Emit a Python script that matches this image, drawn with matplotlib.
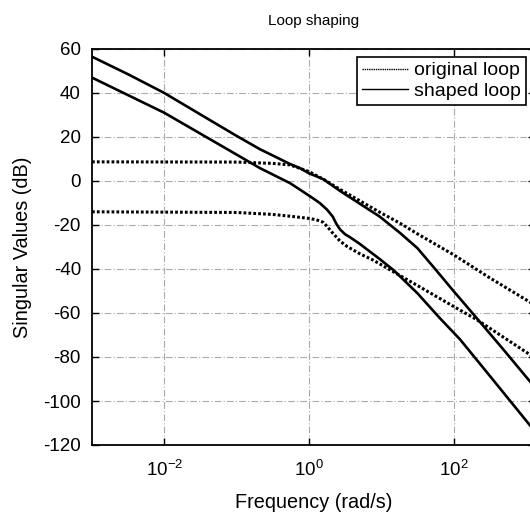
import matplotlib
matplotlib.use("Agg")
import matplotlib.pyplot as plt
from matplotlib.lines import Line2D
import numpy as np

plt.rcParams['font.family'] = ['Liberation Sans', 'DejaVu Sans']
plt.rcParams['axes.unicode_minus'] = False

# log10 of frequency (rad/s) and singular values (dB)
orig_hi_w = [-3, -1, -0.5, -0.26, 0, 0.2, 0.43, 0.98, 1.26, 1.5, 2, 2.5, 3.13]
orig_hi_db = [8.7, 8.6, 8.0, 7.3, 4.3, 0.8, -3.8, -14.2, -19.2, -24, -33.5, -44, -56.5]

orig_lo_w = [-3, -1, -0.5, -0.26, 0, 0.1, 0.2, 0.26, 0.33, 0.43, 0.53, 0.7, 0.89, 1.5, 2, 2.32, 3.13]
orig_lo_db = [-14, -14.3, -15.2, -16, -17, -17.6, -18.8, -21, -23.7, -27.3, -29.8, -33, -36, -47.5, -57, -63, -80.5]

shaped_hi_w = [-3, -2.5, -2, -1.37, -1, -0.68, -0.26, -0.12, 0, 0.1, 0.2, 0.43, 0.98, 1.26, 1.5, 1.72, 2, 2.32, 2.7, 3.13]
shaped_hi_db = [56.5, 48.5, 40, 27.7, 20.5, 14.5, 7.7, 5.8, 3.5, 2.2, 0.8, -4.5, -16.2, -23.6, -30.5, -39, -50, -62.3, -77, -94]

shaped_lo_w = [-3, -2, -1.5, -1, -0.68, -0.26, -0.12, 0.04, 0.15, 0.25, 0.33, 0.38, 0.43, 0.5, 0.57, 0.7, 0.98, 1.17, 1.5, 1.81, 2.09, 2.5, 3.13]
shaped_lo_db = [47, 31, 21.5, 12, 5.9, -1.0, -4, -7.5, -10, -13, -16.2, -19.5, -22, -24.2, -25.6, -28.5, -35.5, -40.5, -51, -62.3, -72, -88.5, -114]

fig = plt.figure(figsize=(5.30, 5.12), dpi=100)
ax = fig.add_axes([92 / 530, 67 / 512, 443 / 530, 396 / 512])

dots = (0, (0.9, 0.7))
ax.semilogx(10 ** np.array(orig_hi_w), orig_hi_db, color='black', linestyle=dots, linewidth=2.2)
ax.semilogx(10 ** np.array(orig_lo_w), orig_lo_db, color='black', linestyle=dots, linewidth=2.2)
ax.semilogx(10 ** np.array(shaped_hi_w), shaped_hi_db, color='black', linestyle='-', linewidth=1.9)
ax.semilogx(10 ** np.array(shaped_lo_w), shaped_lo_db, color='black', linestyle='-', linewidth=1.9)

ax.set_xlim(1e-3, 10 ** 3.127)
ax.set_ylim(-120, 60)
ax.set_xticks([1e-2, 1e0, 1e2])
ax.set_xticklabels(['$\\mathregular{10^{-2}}$', '$\\mathregular{10^{0}}$', '$\\mathregular{10^{2}}$'])
ax.minorticks_off()
ax.set_yticks(np.arange(-120, 61, 20))
ax.tick_params(direction='in', top=True, right=True, labelsize=13.5, length=5, width=1)
ax.tick_params(axis='x', pad=11)
ax.tick_params(axis='y', pad=8)
ax.grid(True, color='#aaaaaa', linestyle=(0, (6, 2, 1, 2)), linewidth=0.8)
for s in ax.spines.values():
    s.set_linewidth(1.3)

ax.set_xlabel('Frequency (rad/s)', fontsize=14.3, labelpad=9)
ax.set_ylabel('Singular Values (dB)', fontsize=14.3, labelpad=8)
ax.set_title('Loop shaping', fontsize=11, pad=17)

handles = [Line2D([], [], color='black', linestyle=(0, (1, 0.6)), linewidth=1),
           Line2D([], [], color='black', linestyle='-', linewidth=1)]
leg = ax.legend(handles, ['original loop', 'shaped loop'], loc='upper right',
                bbox_to_anchor=(526 / 530, 1 - 57 / 512), bbox_transform=fig.transFigure,
                fontsize=14, fancybox=False, framealpha=1, edgecolor='black',
                borderpad=0.25, labelspacing=0.15, handlelength=2.4, handletextpad=0.3,
                borderaxespad=0)
leg.get_frame().set_linewidth(1.2)

fig.savefig('out.png', dpi=100)
